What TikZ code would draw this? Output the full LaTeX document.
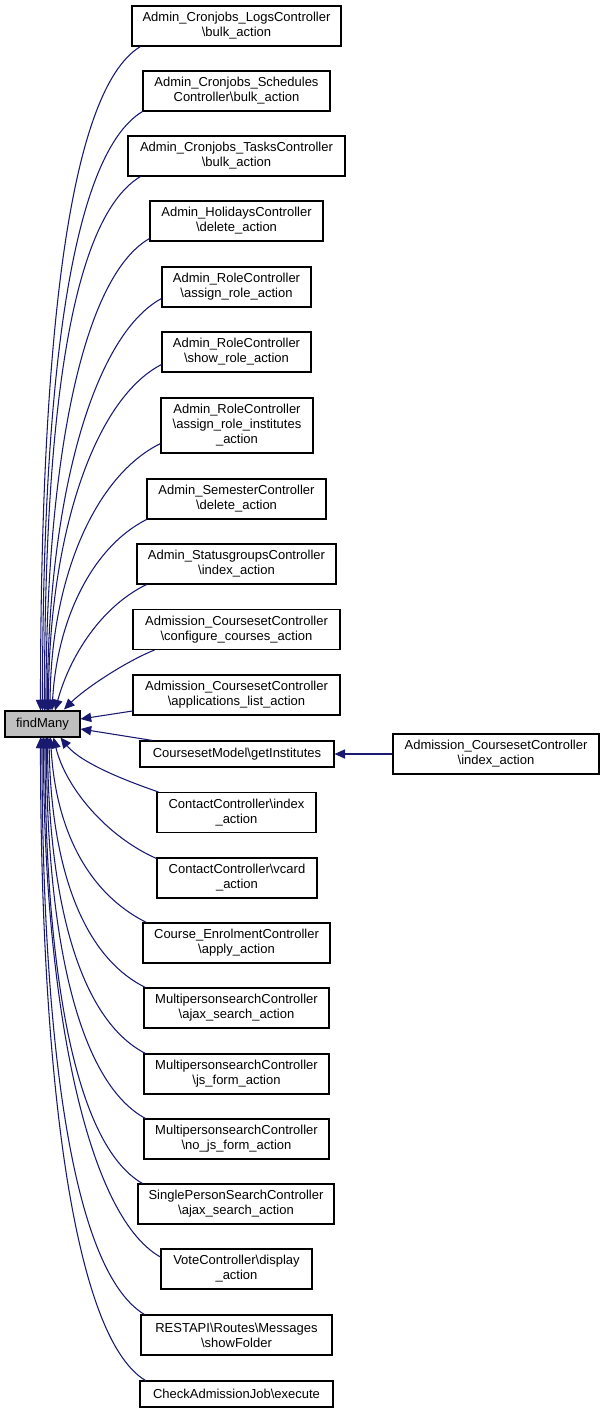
\documentclass[tikz,border=0pt]{standalone}
\usepackage{fontspec}
\setmainfont{Liberation Sans}
\usetikzlibrary{arrows.meta,calc}
\definecolor{edgeblue}{HTML}{191970}
\begin{document}
\begin{tikzpicture}[x=0.75pt,y=-0.75pt,
  box/.style={draw=black,line width=0.8pt,inner sep=0pt,align=center,
    font=\fontsize{9.75}{11.25}\selectfont},
  sz/.style 2 args={minimum width=#1*0.75pt,minimum height=#2*0.75pt},
  edge/.style={draw=edgeblue,line width=0.8pt,
    -{Triangle[length=8pt,width=7pt]}}]
\useasboundingbox (0,0) rectangle (605,1413);

\node[box,sz={75}{26},fill=black!25] (fm) at (42.5,724) {findMany};

\node[box,sz={209}{40}] (logs) at (236.5,26) {Admin\_Cronjobs\_LogsController\\\textbackslash bulk\_action};
\node[box,sz={187}{40}] (sched) at (236.5,91) {Admin\_Cronjobs\_Schedules\\Controller\textbackslash bulk\_action};
\node[box,sz={217}{40}] (tasks) at (236.5,156) {Admin\_Cronjobs\_TasksController\\\textbackslash bulk\_action};
\node[box,sz={173}{40}] (holi) at (236.5,221) {Admin\_HolidaysController\\\textbackslash delete\_action};
\node[box,sz={149}{40}] (arole) at (236.5,287) {Admin\_RoleController\\\textbackslash assign\_role\_action};
\node[box,sz={149}{40}] (srole) at (236.5,352) {Admin\_RoleController\\\textbackslash show\_role\_action};
\node[box,sz={152}{55}] (ainst) at (237,425.5) {Admin\_RoleController\\\textbackslash assign\_role\_institutes\\\_action};
\node[box,sz={179}{40}] (seme) at (236.5,499) {Admin\_SemesterController\\\textbackslash delete\_action};
\node[box,sz={199}{40}] (stat) at (236.5,564) {Admin\_StatusgroupsController\\\textbackslash index\_action};
\node[box,sz={207}{40}] (conf) at (236.5,629.5) {Admission\_CoursesetController\\\textbackslash configure\_courses\_action};
\node[box,sz={207}{40}] (appl) at (236.5,695) {Admission\_CoursesetController\\\textbackslash applications\_list\_action};
\node[box,sz={194}{26}] (getinst) at (237,754) {CoursesetModel\textbackslash getInstitutes};
\node[box,sz={206}{40}] (aidx) at (496,754) {Admission\_CoursesetController\\\textbackslash index\_action};
\node[box,sz={159}{40}] (cidx) at (236.5,812.5) {ContactController\textbackslash index\\\_action};
\node[box,sz={160}{40}] (vcard) at (237,878) {ContactController\textbackslash vcard\\\_action};
\node[box,sz={187}{40}] (enrol) at (236.5,943) {Course\_EnrolmentController\\\textbackslash apply\_action};
\node[box,sz={185}{40}] (mpajax) at (236.5,1008) {MultipersonsearchController\\\textbackslash ajax\_search\_action};
\node[box,sz={185}{40}] (mpjs) at (236.5,1074) {MultipersonsearchController\\\textbackslash js\_form\_action};
\node[box,sz={185}{40}] (mpnojs) at (236.5,1139) {MultipersonsearchController\\\textbackslash no\_js\_form\_action};
\node[box,sz={196}{40}] (single) at (236,1204) {SinglePersonSearchController\\\textbackslash ajax\_search\_action};
\node[box,sz={151}{40}] (vote) at (236.5,1269) {VoteController\textbackslash display\\\_action};
\node[box,sz={191}{40}] (rest) at (236.5,1335) {RESTAPI\textbackslash Routes\textbackslash Messages\\\textbackslash showFolder};
\node[box,sz={193}{26}] (check) at (236.5,1394) {CheckAdmissionJob\textbackslash execute};

% upper edges
\draw[edge] ($(logs.south west)+(9,0)$) .. controls +(-75,45) and +(0,-350) .. ($(fm.north)+(-2,0)$);
\draw[edge] ($(sched.south west)+(0,0)$) .. controls +(-75,45) and +(0,-310) .. ($(fm.north)+(0,0)$);
\draw[edge] ($(tasks.south west)+(13,0)$) .. controls +(-75,45) and +(0,-267) .. ($(fm.north)+(2,0)$);
\draw[edge] ($(holi.south west)+(0,-3)$) .. controls +(-70,40) and +(0,-236) .. ($(fm.north)+(3.5,0)$);
\draw[edge] ($(arole.south west)+(0,-9)$) .. controls +(-70,38) and +(0,-206) .. ($(fm.north)+(5,0)$);
\draw[edge] ($(srole.south west)+(0,-8)$) .. controls +(-68,35) and +(0,-173) .. ($(fm.north)+(6,0)$);
\draw[edge] ($(ainst.south west)+(0,-10)$) .. controls +(-65,32) and +(1,-134) .. ($(fm.north)+(7.5,0)$);
\draw[edge] ($(seme.south west)+(0,0)$) .. controls +(-55,28) and +(5,-90) .. ($(fm.north)+(9.5,0)$);
\draw[edge] ($(stat.south west)+(10,0)$) .. controls +(-45,22) and +(15,-55) .. ($(fm.north)+(12.5,0)$);
\draw[edge] ($(conf.south west)+(22,0)$) .. controls +(-30,12) and +(20,-20) .. ($(fm.north)+(21.5,-1)$);
\draw[edge] ($(appl.west)+(0,16)$) -- ($(fm.east)+(0,-5)$);
\draw[edge] ($(getinst.north west)+(13,0)$) -- ($(fm.east)+(0,5)$);
\draw[edge] (aidx.west) -- (getinst.east);

% lower edges
\draw[edge] ($(cidx.north west)+(2,0)$) .. controls +(-35,-12) and +(20,25) .. ($(fm.south)+(18,0)$);
\draw[edge] ($(vcard.north west)+(0,1)$) .. controls +(-50,-22) and +(12,50) .. ($(fm.south)+(11,0)$);
\draw[edge] ($(enrol.north west)+(4,0)$) .. controls +(-60,-30) and +(5,90) .. ($(fm.south)+(8,0)$);
\draw[edge] ($(mpajax.north west)+(2,0)$) .. controls +(-65,-32) and +(2,125) .. ($(fm.south)+(6.5,0)$);
\draw[edge] ($(mpjs.north west)+(2,0)$) .. controls +(-68,-35) and +(1,158) .. ($(fm.south)+(5,0)$);
\draw[edge] ($(mpnojs.north west)+(2,0)$) .. controls +(-70,-38) and +(0,190) .. ($(fm.south)+(4,0)$);
\draw[edge] ($(single.north west)+(5,0)$) .. controls +(-70,-40) and +(0,224) .. ($(fm.south)+(2.5,0)$);
\draw[edge] ($(vote.west)+(0,-12)$) .. controls +(-75,-42) and +(0,260) .. ($(fm.south)+(1,0)$);
\draw[edge] ($(rest.north west)+(4,0)$) .. controls +(-75,-45) and +(0,290) .. ($(fm.south)+(-0.5,0)$);
\draw[edge] ($(check.north west)+(6,0)$) .. controls +(-75,-45) and +(0,322) .. ($(fm.south)+(-2,0)$);
\end{tikzpicture}
\end{document}
